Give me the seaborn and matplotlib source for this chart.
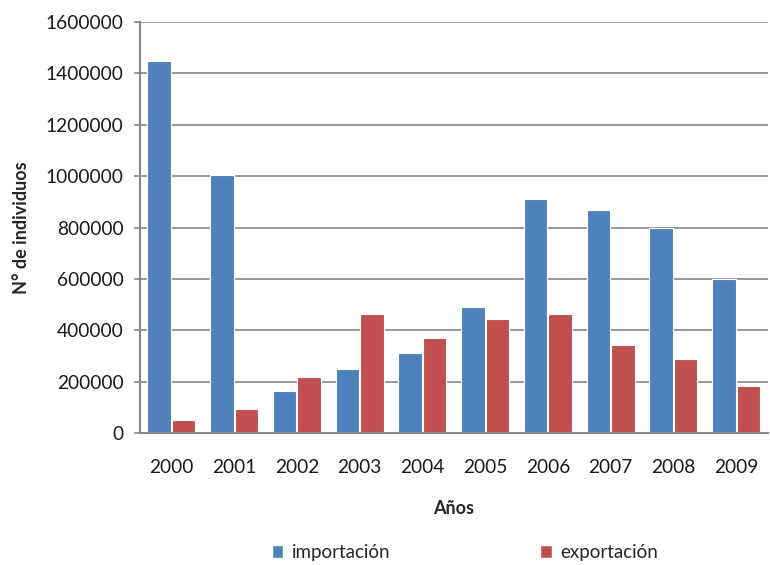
import matplotlib
matplotlib.use("Agg")
import matplotlib.pyplot as plt
import seaborn as sns
import pandas as pd

years = ["2000", "2001", "2002", "2003", "2004", "2005", "2006", "2007", "2008", "2009"]
importacion = [1450000, 1005000, 165000, 251000, 311000, 492000, 911000, 868000, 797000, 601000]
exportacion = [50000, 93000, 218000, 463000, 371000, 444000, 463000, 342000, 287000, 183000]
series_names = ["importación", "exportación"]
colors = ["#4F81BD", "#C0504D"]
ytick_values = [0, 200000, 400000, 600000, 800000, 1000000, 1200000, 1400000, 1600000]

df = pd.DataFrame({
    "Años": years * 2,
    "valor": importacion + exportacion,
    "serie": [series_names[0]] * len(years) + [series_names[1]] * len(years),
})

sns.set_theme(style="white")
plt.rcParams["font.family"] = ["Lato", "DejaVu Sans"]

fig = plt.figure(figsize=(7.7, 5.65), dpi=100)
ax = fig.add_axes([0.1818, 0.2336, 0.815, 0.7274])

sns.barplot(data=df, x="Años", y="valor", hue="serie", palette=colors,
            width=0.78, gap=0.04, edgecolor="white", linewidth=0.8,
            saturation=1, ax=ax, legend=False)

fs = 13.8
ax.set_ylim(0, 1600000)
ax.set_yticks(ytick_values)
ax.set_yticklabels([str(v) for v in ytick_values], fontsize=fs, color="#1a1a1a")
ax.set_xticklabels(years, fontsize=fs, color="#1a1a1a")
ax.yaxis.grid(True, color="#878787", linewidth=1.2)
ax.set_axisbelow(True)
for s in ["top", "right"]:
    ax.spines[s].set_visible(False)
for s in ["left", "bottom"]:
    ax.spines[s].set_color("#878787")
    ax.spines[s].set_linewidth(1.5)
ax.tick_params(axis="y", which="major", left=True, length=4, width=1.2, color="#878787", pad=8)
ax.tick_params(axis="x", which="major", bottom=False, length=0, pad=19)

ax.set_xlabel("Años", fontsize=13, fontweight="bold", labelpad=17)
ax.set_ylabel("N° de individuos", fontsize=13, fontweight="bold", labelpad=11)

from matplotlib.patches import Patch
handles = [Patch(facecolor=c, edgecolor="white") for c in colors]
fig.legend(handles, series_names, loc="center", bbox_to_anchor=(0.604, 0.022),
           ncol=2, frameon=False, fontsize=13.5, handlelength=0.6, handleheight=0.7,
           handletextpad=0.45, columnspacing=8.0)

fig.savefig("out.png", dpi=100)
